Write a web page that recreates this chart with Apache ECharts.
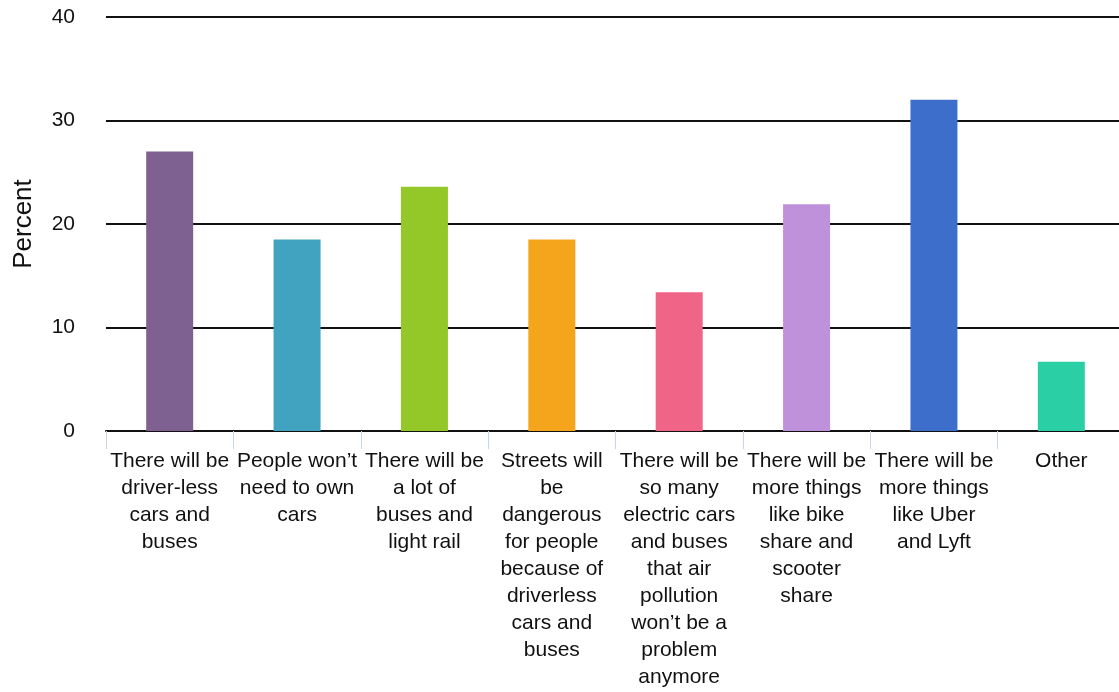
<!DOCTYPE html>
<html>
<head>
<meta charset="utf-8">
<script src="https://cdn.jsdelivr.net/npm/echarts@6/dist/echarts.min.js"></script>
<style>
html,body{margin:0;padding:0;background:#fff;overflow:hidden;width:1119px;height:692px;}
#chart{width:1126px;height:692px;}
</style>
</head>
<body>
<div id="chart"></div>
<script>
const categories = [
  "There will be\ndriver-less\ncars and\nbuses",
  "People won’t\nneed to own\ncars",
  "There will be\na lot of\nbuses and\nlight rail",
  "Streets will\nbe\ndangerous\nfor people\nbecause of\ndriverless\ncars and\nbuses",
  "There will be\nso many\nelectric cars\nand buses\nthat air\npollution\nwon’t be a\nproblem\nanymore",
  "There will be\nmore things\nlike bike\nshare and\nscooter\nshare",
  "There will be\nmore things\nlike Uber\nand Lyft",
  "Other"
];
const percentValues = [27.0, 18.5, 23.6, 18.5, 13.4, 21.9, 32.0, 6.7];
const barColors = ["#7E6191", "#42A3C1", "#94C728", "#F5A51B", "#EF6487", "#BF91DA", "#3E6ECC", "#2ACFA5"];
const yTicks = { min: 0, max: 40, interval: 10 };
const yAxisTitle = "Percent";

const chart = echarts.init(document.getElementById('chart'), null, { renderer: 'canvas' });
const font = 'Liberation Sans, Arial, Helvetica, sans-serif';
chart.setOption({
  animation: false,
  backgroundColor: '#ffffff',
  grid: { left: 106, right: 1, top: 17, bottom: 261, containLabel: false },
  xAxis: {
    type: 'category',
    data: categories,
    boundaryGap: true,
    axisLine: { show: true, lineStyle: { color: '#111111', width: 2 } },
    axisTick: { show: true, alignWithLabel: false, length: 18, lineStyle: { color: '#ccd6eb', width: 1 } },
    axisLabel: { interval: 0, fontFamily: font, fontSize: 21, lineHeight: 27, color: '#111111', margin: 17 },
    splitLine: { show: false }
  },
  yAxis: {
    type: 'value',
    min: yTicks.min, max: yTicks.max, interval: yTicks.interval,
    name: yAxisTitle,
    nameLocation: 'middle',
    nameGap: 69,
    nameTextStyle: { fontFamily: font, fontSize: 26, color: '#111111' },
    axisLine: { show: false },
    axisTick: { show: false },
    axisLabel: { fontFamily: font, fontSize: 21, color: '#111111', margin: 31 },
    splitLine: { show: true, lineStyle: { color: '#111111', width: 2 } }
  },
  series: [{
    type: 'bar',
    data: percentValues.map((v, i) => ({ value: v, itemStyle: { color: barColors[i] } })),
    barWidth: 47,
    z: 3
  }]
});
</script>
</body>
</html>
